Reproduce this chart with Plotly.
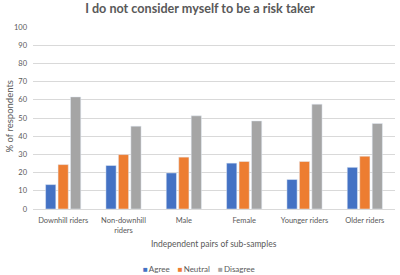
import plotly.graph_objects as go

categories = ["Downhill riders", "Non-downhill<br>riders", "Male", "Female", "Younger riders", "Older riders"]
agree = [13.4, 23.9, 19.8, 25.2, 16.2, 22.9]
neutral = [24.4, 29.9, 28.5, 26.1, 26.1, 29.0]
disagree = [61.6, 45.5, 51.2, 48.4, 57.6, 47.0]
y_ticks = [0, 10, 20, 30, 40, 50, 60, 70, 80, 90, 100]
series_names = ["Agree", "Neutral", "Disagree"]
series_colors = ["#4472C4", "#ED7D31", "#A5A5A5"]

FONT = "Lato"
GREY = "#595959"

fig = go.Figure()
for name, vals, col in zip(series_names, [agree, neutral, disagree], series_colors):
    fig.add_bar(name=name, x=categories, y=vals, marker_color=col, showlegend=False)

L, R, T, B = 33, 5, 27, 66
W, H = 400, 275
ph = H - T - B
pw = W - L - R

fig.update_layout(
    width=W, height=H,
    margin=dict(l=L, r=R, t=T, b=B, autoexpand=False),
    paper_bgcolor="white", plot_bgcolor="white",
    barmode="group", bargap=0.38, bargroupgap=0.18,
    font=dict(family=FONT, size=7.5, color=GREY),
    title=dict(text="<b>I do not consider myself to be a risk taker</b>",
               x=0.5, xanchor="center", y=1 - 9 / H, yanchor="middle",
               font=dict(family=FONT, size=12.6, color=GREY)),
    showlegend=False,
)
fig.update_yaxes(range=[0, 100], tickvals=y_ticks, showgrid=True, gridcolor="#D9D9D9",
                 gridwidth=1, zeroline=False, showline=False, ticks="", ticklabelstandoff=5,
                 tickfont=dict(size=7.5, color=GREY), automargin=False)
fig.update_xaxes(showline=True, linecolor="#D9D9D9", linewidth=1, ticks="",
                 tickfont=dict(size=7.5, color=GREY), automargin=False, ticklabelstandoff=4)

# axis titles
fig.add_annotation(text="% of respondents", xref="paper", yref="paper",
                   x=(9 - L) / pw, y=(H - B - 116.5) / ph, xanchor="center", yanchor="middle",
                   textangle=-90, showarrow=False, font=dict(size=9.5, color=GREY))
fig.add_annotation(text="Independent pairs of sub-samples", xref="paper", yref="paper",
                   x=0.5, y=(H - B - 244) / ph, xanchor="center", yanchor="middle",
                   showarrow=False, font=dict(size=8.5, color=GREY))

# legend as text
legend_text = "&nbsp;&nbsp;&nbsp;&nbsp;".join(
    f"<span style='color:{c}'>■</span>&#8201;{n}" for n, c in zip(series_names, series_colors)
)
fig.add_annotation(text=legend_text, xref="paper", yref="paper",
                   x=(199 - L) / pw, y=(H - B - 269) / ph, xanchor="center", yanchor="middle",
                   showarrow=False, font=dict(size=8, color=GREY))

fig.write_html("out.html", config={"displayModeBar": False},
               post_script="document.body.style.margin='0';document.body.style.overflow='hidden';")
